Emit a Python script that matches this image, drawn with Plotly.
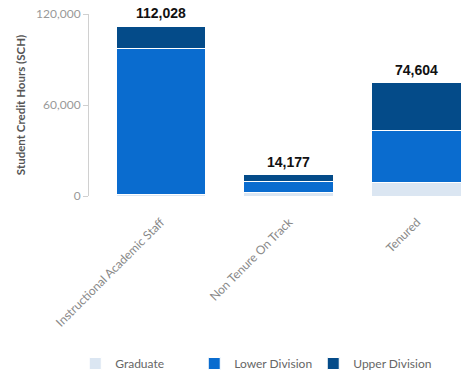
import plotly.graph_objects as go

categories = ["Instructional Academic Staff", "Non Tenure On Track", "Tenured"]
graduate = [1000, 2077, 9000]
lower_division = [96028, 7300, 34000]
upper_division = [15000, 4800, 31604]
totals = [112028, 14177, 74604]
y_ticks = [0, 60000, 120000]
y_tick_labels = ["0", "60,000", "120,000"]

series = [
    ("Graduate", graduate, "#dbe6f2"),
    ("Lower Division", lower_division, "#0a6ccf"),
    ("Upper Division", upper_division, "#044b89"),
]

fig = go.Figure()
for name, vals, color in series:
    fig.add_trace(go.Bar(
        x=categories, y=vals, name=name,
        marker=dict(color=color, line=dict(color="white", width=1)),
        width=0.703, hoverinfo="skip",
    ))

for c, t in zip(categories, totals):
    fig.add_annotation(x=c, y=t, text=f"<b>{t:,}</b>", showarrow=False,
                       yanchor="bottom", yshift=3,
                       font=dict(family="Liberation Sans, Arial", size=14, color="#111"))

fig.update_layout(
    barmode="stack",
    width=461, height=378,
    margin=dict(l=89, r=0, t=14, b=181),
    paper_bgcolor="white", plot_bgcolor="white",
    font=dict(family="Lato, Arial", color="#888"),
    xaxis=dict(range=[-0.5625, 2.344], tickangle=-45, showline=False,
               showgrid=False, ticks="", ticklabelstandoff=16,
               tickfont=dict(size=12, color="#888")),
    yaxis=dict(range=[0, 120000], tickvals=y_ticks, ticktext=y_tick_labels,
               showgrid=False, zeroline=False, showline=True, linecolor="#d0d0d0",
               linewidth=1, ticks="outside", ticklen=5, tickcolor="#d0d0d0",
               tickfont=dict(size=12, color="#999"),
               title=dict(text="<b>Student Credit Hours (SCH)</b>", standoff=8,
                          font=dict(size=11.5, color="#555"))),
    legend=dict(orientation="h", x=-0.037, xanchor="left", y=-0.923, yanchor="middle",
                font=dict(size=12, color="#666"), entrywidth=74, traceorder="normal"),
    showlegend=True,
)

fig.write_html("out.html")
